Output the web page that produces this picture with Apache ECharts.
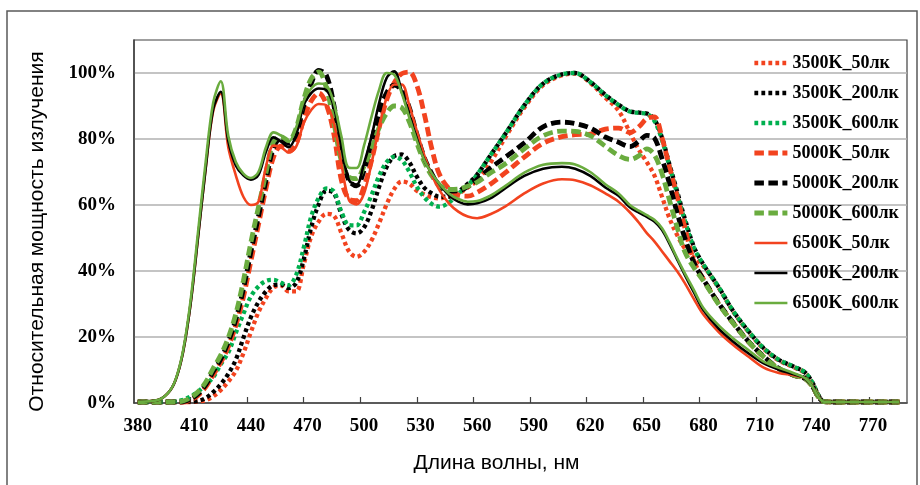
<!DOCTYPE html>
<html>
<head>
<meta charset="utf-8">
<script src="https://cdn.jsdelivr.net/npm/echarts@6/dist/echarts.min.js"></script>
<style>
html, body { margin: 0; padding: 0; background: #fff; }
#main { width: 920px; height: 485px; }
</style>
</head>
<body>
<div id="main"></div>
<script>
// wavelength grid, nm
var wavelengths = [
  380, 390, 396, 400, 404, 408, 412, 416, 420, 424,
  428, 432, 436, 440, 444, 448, 452, 456, 460, 464,
  468, 472, 476, 480, 484, 488, 492, 496, 500, 504,
  508, 512, 516, 520, 524, 528, 532, 536, 540, 545,
  550, 555, 560, 567, 575, 585, 595, 605, 612, 620,
  628, 635, 641, 646, 650, 654, 658, 662, 666, 670,
  675, 680, 688, 696, 704, 712, 720, 728, 734, 738,
  741, 744, 750, 765, 784
];

// relative power, %
var s3500_50 = [
  0.3, 0.3, 0.3, 0.3, 0.3, 0.3, 0.5, 0.8, 2, 3.9,
  6.5, 9.7, 15, 21.5, 27.5, 31.8, 35, 35.6, 33.8, 33.8,
  41.9, 50.5, 55, 57.3, 56.8, 51.5, 46, 44.3, 45.8, 49.3,
  54.5, 60.2, 64.8, 67.1, 66.5, 64.3, 63.2, 62.3, 62, 62.6,
  63.4, 65.3, 67.5, 72.8, 80.5, 89.5, 96.3, 99.3, 99.8, 97,
  92.5, 88.6, 82, 76.5, 73, 69, 62.6, 56, 51, 47,
  44, 41.5, 35, 27.5, 21.5, 16.4, 12.9, 10.8, 9, 5.8,
  2.3, 0.4, 0.3, 0.3, 0.3
];
var s3500_200 = [
  0.3, 0.3, 0.3, 0.3, 0.3, 0.4, 0.6, 1.5, 3.3, 5.7,
  8.8, 13.1, 19.7, 26, 30.6, 33.8, 35.7, 35.9, 34.8, 36.4,
  43.5, 53.3, 60.3, 64.3, 63.6, 57.2, 52.5, 51.4, 53.2, 58.3,
  65.5, 71.5, 74.8, 75.3, 73, 68.6, 65.2, 63.5, 62.5, 62.5,
  64, 66.4, 69.2, 75, 81.6, 90.2, 96.8, 99.6, 100, 97.3,
  93.4, 90.4, 88.4, 88, 87.7, 86, 80.5, 72.3, 64.3, 56.2,
  47.3, 42, 35.2, 27.7, 21.7, 16.6, 13.1, 11, 9.2, 6,
  2.4, 0.4, 0.3, 0.3, 0.3
];
var s3500_600 = [
  0.3, 0.3, 0.3, 0.5, 1, 2, 3.5, 5.5, 7.8, 11.7,
  15.3, 21.2, 27, 32.3, 35.3, 37, 37.3, 36.4, 35.7, 38.8,
  47, 56.5, 62.2, 65, 64.1, 58, 53.9, 53.8, 57.8, 63,
  68.8, 73, 74.6, 73.6, 70.1, 65.6, 62.3, 60.3, 59.5, 60.7,
  63.4, 65.9, 69.2, 75, 81.6, 90.2, 96.8, 99.6, 100, 97.3,
  93.3, 90.3, 88.3, 87.9, 87.6, 85.5, 79.8, 71.8, 63.6, 55.6,
  47, 42, 35.2, 27.7, 21.7, 16.6, 13.1, 11, 9.2, 6,
  2.4, 0.4, 0.3, 0.3, 0.3
];
var s5000_50 = [
  0.3, 0.3, 0.3, 0.3, 0.3, 0.9, 2.3, 4.8, 8.5, 12.3,
  17, 23.5, 32, 43, 54, 65, 74.5, 77.8, 76.3, 78.5,
  86, 91.5, 93.9, 90.5, 81.5, 67.5, 61.8, 61.3, 65.6, 73.5,
  83.3, 91.8, 97, 99.8, 100.3, 96.3, 87.5, 77, 69.3, 65,
  63, 62.7, 63.8, 66.3, 69.8, 74.5, 78.7, 80.7, 81.3, 81.5,
  83, 83.3, 82, 83.8, 86.2, 86.7, 80.5, 71.5, 62.8, 53.5,
  43, 37.5, 30.2, 24.1, 18.5, 14, 10.4, 8.4, 7.4, 4.9,
  1.8, 0.4, 0.3, 0.3, 0.3
];
var s5000_200 = [
  0.3, 0.3, 0.3, 0.3, 0.4, 1.2, 2.8, 5.5, 9.5, 13.3,
  18.5, 25.3, 34.5, 45.8, 56.5, 67.5, 77.3, 80.3, 78.7, 81.5,
  90, 96.8, 100.8, 99.3, 90.3, 75.7, 67.4, 65.8, 70.5, 79.5,
  88, 94, 96.3, 94.8, 89.5, 81.5, 74.3, 69.4, 65.8, 64.2,
  64.3, 65.6, 67.8, 71.2, 74.5, 78.8, 83.7, 85.1, 84.7, 83.3,
  80.6, 79, 77.7, 79.4, 81.1, 80.3, 74.2, 66.5, 57.8, 50.3,
  42.5, 37.5, 30.3, 24.2, 18.6, 14.1, 10.5, 8.4, 7.4, 4.9,
  1.8, 0.4, 0.3, 0.3, 0.3
];
var s5000_600 = [
  0.3, 0.3, 0.3, 0.3, 0.6, 1.6, 3.4, 6.3, 10.5, 14.5,
  19.8, 27, 37, 48.7, 59.3, 69.8, 79.2, 80.7, 79.5, 83.3,
  92, 98.3, 100.3, 95.5, 85, 73.3, 68.5, 68, 71.8, 77,
  83.4, 87.8, 90, 89.5, 85.2, 78.8, 73, 68.8, 66, 64.7,
  64.8, 65.7, 66.9, 69.7, 72.5, 77, 81, 82.4, 82.3, 81,
  77.8, 75, 73.8, 75, 77, 75.2, 69.6, 61.5, 53.4, 46,
  41, 37, 30, 24, 18.5, 14, 10.4, 8.4, 7.4, 4.9,
  1.8, 0.4, 0.3, 0.3, 0.3
];
var s6500_50 = [
  0.4, 0.8, 3, 6.9, 15.4, 30, 50.4, 71, 88.5, 93.8,
  77.5, 69, 62.5, 60, 61, 71.6, 78, 77.5, 75.9, 77.7,
  84.8, 88.8, 90.6, 90.2, 84.8, 72.5, 61.5, 60.2, 63.5, 72.7,
  83.5, 92.5, 96.5, 96.5, 90.2, 82.5, 75, 69, 64.5, 60.5,
  58, 56.5, 56, 57.2, 59.6, 63.5, 66.5, 67.8, 67.5, 66,
  63.5, 61, 57.8, 54.5, 51.5, 49, 46, 43, 40, 36.5,
  31.5, 26.8, 21.6, 17.5, 14, 10.7, 9.1, 8.4, 7.4, 4.8,
  1.8, 0.4, 0.3, 0.3, 0.3
];
var s6500_200 = [
  0.4, 0.8, 3, 6.9, 15.4, 30, 50.4, 71, 89, 94.3,
  79.5, 72, 69, 67.7, 69.1, 76.2, 80.5, 79.2, 77.5, 81.3,
  90.3, 93.9, 95.3, 94.8, 89.8, 77.7, 67.6, 66.1, 72.6, 80.8,
  90.9, 98.5, 100.5, 94.5, 87.3, 80.2, 73.6, 69.6, 66.4, 63,
  61, 60.2, 60.5, 62, 65.1, 68.8, 71, 71.6, 71, 68.8,
  65.3, 62.8, 59.3, 57.6, 56.4, 55, 52.5, 48.3, 43.6, 39,
  33.5, 28.2, 22.6, 18.5, 15, 12, 10.1, 8.7, 7.4, 4.8,
  1.8, 0.4, 0.3, 0.3, 0.3
];
var s6500_600 = [
  0.4, 0.8, 3, 7, 15.8, 31, 52, 73, 91, 97.5,
  81, 73, 69.5, 68.2, 70, 77.5, 82, 81, 79.2, 83.5,
  91.5, 95.3, 96.8, 96.3, 90.9, 80.8, 71.3, 71.2, 78, 86.8,
  94.9, 100, 99.5, 93.9, 86.5, 79.5, 73.5, 69.5, 66.5, 63.5,
  61.8, 61, 61.2, 62.8, 65.8, 69.8, 72.2, 72.7, 72.3, 70,
  66.3, 63.5, 60, 58.2, 56.9, 55.5, 53, 48.8, 44, 39.5,
  34.2, 28.8, 23.6, 19.5, 16, 12.5, 10.7, 9, 7.5, 4.8,
  1.8, 0.4, 0.3, 0.3, 0.3
];

var seriesNames = ['3500K_50лк', '3500K_200лк', '3500K_600лк',
                   '5000K_50лк', '5000K_200лк', '5000K_600лк',
                   '6500K_50лк', '6500K_200лк', '6500K_600лк'];
var xLabels = [380, 410, 440, 470, 500, 530, 560, 590, 620, 650, 680, 710, 740, 770];

var RED = '#f2431f', BLACK = '#000000', GREEN = '#00b04f', OLIVE = '#6aac3f';

var dotted = { width: 4.3, type: [3.8, 3.2], cap: 'butt' };
var dashed = { width: 4.8, type: [9.5, 4.5], cap: 'butt' };
var solid = { width: 2.6, type: 'solid' };

function pairs(vals) {
  return wavelengths.map(function (w, i) { return [w, vals[i] / 100]; });
}

function line(name, vals, color, style) {
  return {
    name: name,
    type: 'line',
    data: pairs(vals),
    symbol: 'none',
    showSymbol: false,
    smooth: 0.35,
    itemStyle: { color: color },
    lineStyle: Object.assign({ color: color }, style)
  };
}

var chart = echarts.init(document.getElementById('main'));
chart.setOption({
  animation: false,
  backgroundColor: '#fff',
  graphic: [{
    type: 'rect',
    silent: true,
    shape: { x: 7, y: 11, width: 910, height: 490 },
    style: { fill: 'none', stroke: '#595959', lineWidth: 1.5 }
  }],
  grid: {
    left: 134, right: 13, top: 40, bottom: 82,
    show: true, borderColor: '#404040', borderWidth: 1.2
  },
  legend: {
    orient: 'vertical',
    left: 752, top: 53,
    padding: 0,
    itemWidth: 33, itemHeight: 12, itemGap: 10,
    itemStyle: { opacity: 0 },
    lineStyle: { width: 'inherit' },
    textStyle: {
      fontFamily: 'Liberation Serif', fontWeight: 'bold', fontSize: 18,
      color: '#000', lineHeight: 20
    },
    data: seriesNames
  },
  xAxis: {
    type: 'value',
    min: 378, max: 788,
    name: 'Длина волны, нм',
    nameLocation: 'middle',
    nameGap: 50,
    nameTextStyle: {
      fontFamily: 'Liberation Sans', fontSize: 21, color: '#000',
      padding: [0, 48, 0, 0]
    },
    axisLine: { lineStyle: { color: '#404040', width: 1.5 } },
    axisTick: {
      inside: true, length: 6,
      lineStyle: { color: '#404040', width: 1.2 },
      customValues: xLabels.slice(1).map(function (v) { return v - 2; })
    },
    axisLabel: {
      customValues: xLabels,
      margin: 14,
      fontFamily: 'Liberation Serif', fontWeight: 'bold', fontSize: 19, color: '#000'
    },
    splitLine: { show: false }
  },
  yAxis: {
    type: 'value',
    min: 0, max: 1.1, interval: 0.2,
    name: 'Относительная мощность излучения',
    nameLocation: 'middle',
    nameRotate: 90,
    nameGap: 86,
    nameTextStyle: {
      fontFamily: 'Liberation Sans', fontSize: 21, color: '#000',
      padding: [0, 20, 0, 0]
    },
    axisLine: { show: true, lineStyle: { color: '#404040', width: 1.5 } },
    axisTick: { show: false },
    axisLabel: {
      margin: 18,
      showMaxLabel: false,
      fontFamily: 'Liberation Serif', fontWeight: 'bold', fontSize: 19, color: '#000',
      formatter: function (v) { return Math.round(v * 100) + '%'; }
    },
    splitLine: { showMaxLine: false, lineStyle: { color: '#b0b0b0', width: 1.5 } }
  },
  series: [
    line(seriesNames[0], s3500_50, RED, dotted),
    line(seriesNames[1], s3500_200, BLACK, dotted),
    line(seriesNames[2], s3500_600, GREEN, dotted),
    line(seriesNames[3], s5000_50, RED, dashed),
    line(seriesNames[4], s5000_200, BLACK, dashed),
    line(seriesNames[5], s5000_600, OLIVE, dashed),
    line(seriesNames[6], s6500_50, RED, solid),
    line(seriesNames[7], s6500_200, BLACK, solid),
    line(seriesNames[8], s6500_600, OLIVE, solid)
  ]
});
</script>
</body>
</html>
